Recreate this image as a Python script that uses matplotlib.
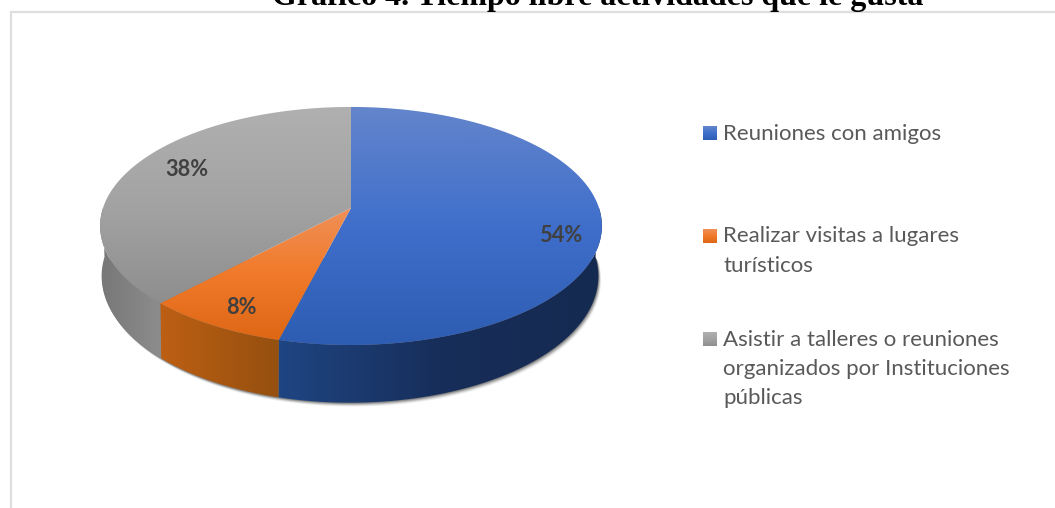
import numpy as np
import matplotlib
matplotlib.use("Agg")
import matplotlib.pyplot as plt
from matplotlib.colors import LinearSegmentedColormap
from matplotlib.patches import Polygon

title = "Gráfico 4. Tiempo libre actividades que le gusta"
shares = [54, 8, 38]
labels = ["Reuniones con amigos",
          "Realizar visitas a lugares\nturísticos",
          "Asistir a talleres o reuniones\norganizados por Instituciones\npúblicas"]

# colours: top face runs top to bottom, side face left to right
top_colors = [["#6485cb", "#3f6fcb", "#2d5cb2"],
              ["#ef9058", "#f17a2a", "#de6716"],
              ["#b0b0b0", "#a3a3a3", "#8e8e8e"]]
side_colors = [["#1f4582", "#172e5a", "#152a50"],
               ["#bd5f14", "#95500f"],
               ["#777777", "#8d8d8d"]]
label_pos = [(561, 236), (241, 308), (187, 170)]
legend_y = [133, 236, 339]

# perspective of the disc, in pixels
cx, cy = 351, 208
a, b, p = 248, 116.3, 0.151
depth = 49

def project(theta, squeeze=1.0, drop=0.0, shift=0.0):
    # theta is clockwise from 12 o'clock, in degrees
    t = np.radians(theta)
    u, v = np.sin(t), np.cos(t)
    w = 1 + p * v
    return cx + shift + squeeze * a * u / w, cy - b * v / w + drop / w

def gradient_fill(ax, pts, colors, vertical=True):
    pts = np.array(pts)
    x0, y0 = pts.min(axis=0)
    x1, y1 = pts.max(axis=0)
    ramp = np.linspace(0, 1, 256)
    img = ramp[:, None] if vertical else ramp[None, :]
    cmap = LinearSegmentedColormap.from_list("g", colors)
    im = ax.imshow(img, cmap=cmap, extent=[x0, x1, y1, y0], aspect="auto", zorder=2, interpolation="bilinear")
    patch = Polygon(pts, closed=True, transform=ax.transData, fc="none", ec="none")
    ax.add_patch(patch)
    im.set_clip_path(patch)
    return im

fig = plt.figure(figsize=(10.55, 5.08), dpi=100)
ax = fig.add_axes([0, 0, 1, 1])
ax.set_xlim(0, 1055)
ax.set_ylim(508, 0)
ax.axis("off")

# frame, open at the bottom and right
ax.plot([11, 11, 1055], [508, 12, 12], color="#dedede", lw=1.6, zorder=1, solid_joinstyle="miter")

ax.text(598, 5, title, family="Liberation Serif", weight="bold", fontsize=23,
        ha="center", va="baseline", color="black", zorder=5)

edges = np.cumsum([0] + shares) / sum(shares) * 360

# soft shadow under the rim
th = np.linspace(90, 270, 200)
sx, sy = project(th, 0.99, depth, -1)
for off, alpha in zip([4.0, 3.2, 2.4, 1.6, 0.8], [0.05, 0.08, 0.12, 0.16, 0.2]):
    ax.fill(sx + off * 0.7, sy + off, color="black", alpha=alpha, lw=0, zorder=1.5)

for i in range(len(shares)):
    # side wall, only the part facing us
    lo, hi = max(edges[i], 90), min(edges[i + 1], 270)
    if hi > lo:
        th = np.linspace(lo, hi, 120)
        tx, ty = project(th)
        bx, by = project(th, 0.99, depth, -1)
        gradient_fill(ax, np.r_[np.c_[tx, ty], np.c_[bx, by][::-1]], side_colors[i], vertical=False)

for i in range(len(shares)):
    th = np.linspace(edges[i], edges[i + 1], 240)
    fx, fy = project(th)
    pts = np.r_[[[cx, cy]], np.c_[fx, fy]]
    gradient_fill(ax, pts, top_colors[i])

for share, (x, y) in zip(shares, label_pos):
    ax.text(x, y, f"{share}%", family="Lato", weight="bold", fontsize=15.7, color="#404040",
            ha="center", va="center", zorder=5)

for i, (lab, y) in enumerate(zip(labels, legend_y)):
    swatch = [(703, y - 7), (717, y - 7), (717, y + 7), (703, y + 7)]
    gradient_fill(ax, swatch, top_colors[i])
    for j, line in enumerate(lab.split("\n")):
        ax.text(723, y + 0.5 + j * 29.5, line, family="Lato", fontsize=16, color="#595959",
                ha="left", va="center", zorder=5)

ax.set_xlim(0, 1055)
ax.set_ylim(508, 0)
fig.savefig("out.png", dpi=100)
